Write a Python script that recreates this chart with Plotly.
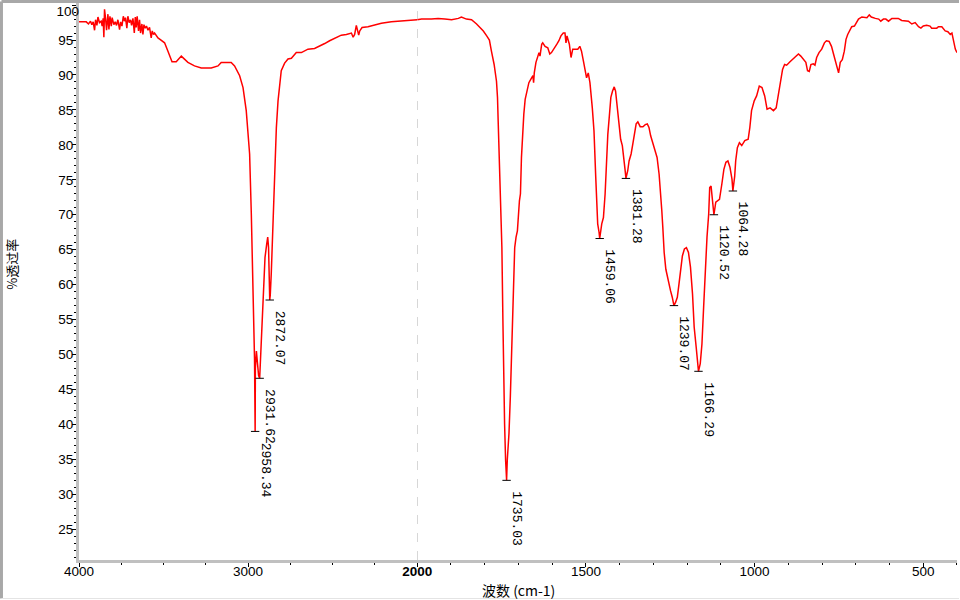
import numpy as np
import plotly.graph_objects as go

# ---------------- data ----------------
wavenumber = [
    4000, 3987, 3970, 3957, 3944, 3932, 3924, 3916, 3908, 3902, 3894, 3888, 3879, 3869, 3863,
    3857, 3853, 3849, 3843, 3837, 3829, 3823, 3817, 3809, 3804, 3794, 3786, 3778, 3770, 3760,
    3754, 3746, 3738, 3731, 3725, 3717, 3711, 3703, 3695, 3689, 3681, 3673, 3667, 3662, 3656,
    3648, 3642, 3636, 3628, 3622, 3616, 3608, 3601, 3592, 3583, 3573, 3567, 3559, 3553, 3543,
    3533, 3515, 3494, 3474, 3450, 3425, 3395, 3356, 3317, 3277, 3218, 3178, 3159, 3100, 3080,
    3050, 3030, 3011, 3001, 2991, 2981, 2975, 2967, 2962, 2958.34, 2957, 2951, 2945, 2938,
    2931.62, 2924, 2916, 2908, 2900, 2890, 2884, 2879, 2872.07, 2869, 2863, 2853, 2843, 2833,
    2823, 2814, 2804, 2784, 2764, 2744, 2715, 2685, 2666, 2646, 2607, 2577, 2547, 2518, 2488,
    2449, 2419, 2389, 2379, 2370, 2360, 2354, 2346, 2340, 2326, 2291, 2252, 2212, 2153, 2094,
    2025, 2000, 1987, 1958, 1938, 1918, 1898, 1878, 1869, 1854, 1839, 1824, 1814, 1804, 1794,
    1786, 1780, 1772, 1765, 1762, 1760, 1757, 1753, 1749, 1746, 1744, 1741, 1738, 1735.03, 1733,
    1728, 1724, 1721, 1717, 1714, 1711, 1707, 1703, 1697, 1694, 1691, 1688, 1684, 1680, 1675,
    1669, 1663, 1657, 1655, 1653, 1648, 1643, 1639, 1636, 1631, 1628, 1621, 1613, 1607, 1602,
    1594, 1586, 1580, 1574, 1567, 1562, 1559, 1556, 1552, 1549, 1544, 1539, 1532, 1524, 1518,
    1513, 1507, 1503, 1498, 1493, 1488, 1481, 1476, 1471, 1468, 1465, 1461, 1459.06, 1453, 1448,
    1443, 1439, 1435, 1430, 1426, 1421, 1416, 1412, 1407, 1402, 1397, 1392, 1387, 1384, 1381.28,
    1376, 1372, 1366, 1361, 1356, 1351, 1346, 1339, 1331, 1324, 1318, 1313, 1308, 1302, 1295,
    1289, 1283, 1278, 1275, 1272, 1268, 1263, 1258, 1254, 1249, 1244, 1241, 1239.07, 1234, 1229,
    1224, 1219, 1214, 1208, 1202, 1196, 1190, 1184, 1179, 1173, 1169, 1166.29, 1161, 1156, 1151,
    1146, 1141, 1136, 1133, 1129, 1126, 1122, 1120.52, 1115, 1110, 1104, 1097, 1091, 1085, 1079,
    1073, 1067, 1064.28, 1059, 1056, 1051, 1045, 1038, 1029, 1019, 1014, 1009, 1001, 994, 986,
    978, 970, 963, 954, 944, 936, 931, 927, 922, 917, 911, 905, 895, 885, 877,
    870, 863, 855, 848, 843, 838, 833, 826, 821, 816, 809, 801, 793, 787, 779,
    772, 766, 760, 755, 751, 746, 740, 734, 729, 724, 717, 712, 704, 697, 692,
    682, 672, 667, 660, 654, 642, 632, 626, 618, 611, 603, 593, 574, 564, 544,
    534, 524, 514, 507, 500, 490, 480, 475, 460, 455, 445, 440, 435, 427, 420,
    415, 410, 405, 400,
]
transmittance = [
    97.6, 97.6, 97.7, 97.6, 97.3, 97.7, 97.2, 97.6, 96.4, 97.9, 97.1, 98.3, 97.5, 97.7, 97.0,
    98.1, 95.4, 99.4, 98.1, 96.4, 98.7, 96.5, 98.4, 97.0, 98.2, 97.2, 97.6, 97.1, 97.9, 96.5,
    97.6, 97.0, 98.4, 97.7, 98.2, 96.7, 98.4, 97.5, 97.9, 97.1, 98.1, 96.0, 98.3, 96.8, 98.4,
    96.3, 97.9, 96.0, 97.3, 95.8, 97.2, 96.7, 97.0, 96.4, 96.8, 95.3, 96.3, 95.8, 96.0, 95.6,
    95.3, 95.0, 94.6, 93.4, 91.9, 91.9, 92.7, 91.8, 91.3, 91.0, 91.0, 91.3, 91.8, 91.8, 91.3,
    89.9, 88.2, 84.9, 81.5, 78.7, 70.1, 63.9, 57.3, 49.4, 39.0, 48.0, 50.5, 48.2, 47.0,
    46.6, 50.8, 54.4, 61.0, 63.9, 65.8, 66.8, 65.3, 57.8, 58.5, 61.6, 68.1, 77.3, 82.4,
    86.3, 88.7, 90.6, 91.7, 92.3, 92.4, 93.2, 93.2, 93.4, 93.7, 93.8, 94.1, 94.5, 94.9, 95.3,
    95.7, 95.8, 96.0, 95.4, 95.8, 97.1, 96.3, 95.7, 96.3, 96.8, 96.9, 97.2, 97.4, 97.6, 97.7,
    97.8, 97.9, 98.0, 98.0, 98.1, 98.0, 97.9, 98.1, 98.3, 98.0, 97.9, 97.3, 96.8, 96.3, 95.6,
    95.0, 93.4, 91.5, 89.1, 86.8, 83.4, 78.7, 71.5, 65.3, 54.9, 46.8, 40.1, 34.9, 32.0, 34.9,
    38.7, 43.9, 48.2, 53.9, 59.6, 65.3, 66.8, 67.7, 72.0, 73.0, 78.2, 81.5, 84.4, 86.5, 87.7,
    88.9, 89.4, 89.9, 88.9, 90.3, 91.8, 92.7, 93.2, 92.7, 94.4, 94.6, 94.1, 93.9, 93.0, 93.2,
    93.9, 94.4, 94.9, 95.6, 96.0, 96.0, 94.6, 95.6, 94.9, 94.4, 92.5, 93.7, 93.7, 93.7, 94.1,
    93.4, 91.9, 90.6, 89.6, 90.3, 88.9, 85.3, 82.0, 75.6, 72.0, 68.7, 67.5, 66.6, 68.7, 69.6,
    73.0, 77.7, 81.5, 84.4, 86.8, 87.7, 88.3, 87.7, 85.3, 82.5, 80.8, 79.9, 78.2, 76.5, 75.2,
    76.3, 77.7, 78.7, 80.1, 81.8, 83.0, 83.3, 82.6, 82.6, 82.9, 83.0, 82.5, 81.3, 80.3, 79.4,
    78.2, 75.8, 73.0, 70.6, 68.2, 64.6, 62.2, 61.0, 60.1, 59.1, 58.2, 57.3, 57.0, 57.5, 58.2,
    60.1, 62.5, 64.1, 65.1, 65.3, 64.6, 62.5, 58.7, 53.9, 51.0, 48.7, 47.6, 48.7, 51.5, 56.8,
    62.5, 66.8, 70.1, 73.9, 74.1, 72.5, 71.0, 70.0, 71.8, 72.0, 72.2, 74.4, 76.5, 77.5, 77.7,
    76.8, 75.1, 73.4, 75.5, 77.7, 79.6, 80.3, 79.9, 80.6, 80.8, 82.5, 84.9, 86.3, 87.0, 88.4,
    88.2, 87.0, 85.1, 85.3, 84.9, 85.3, 86.8, 88.0, 89.6, 90.8, 91.5, 91.4, 91.9, 92.3, 92.7,
    93.0, 92.7, 92.2, 91.8, 90.6, 90.5, 91.5, 91.6, 91.4, 92.5, 93.2, 93.7, 94.6, 94.9, 94.8,
    94.1, 93.0, 91.8, 91.0, 90.3, 91.8, 92.2, 93.4, 95.1, 95.8, 96.4, 96.9, 97.0, 97.5, 98.0,
    98.3, 98.3, 98.2, 98.6, 98.3, 98.1, 98.0, 97.7, 98.0, 98.0, 97.7, 98.1, 98.1, 97.8, 97.7,
    97.3, 97.5, 96.9, 96.7, 97.0, 97.1, 97.0, 96.7, 96.7, 96.9, 96.9, 96.5, 96.3, 96.2, 95.8,
    96.0, 94.9, 93.7, 93.2,
]

peak_wn = [2958.34, 2931.62, 2872.07, 1735.03, 1459.06, 1381.28, 1239.07, 1166.29, 1120.52, 1064.28]
peak_T = [39.0, 46.6, 57.8, 32.0, 66.6, 75.2, 57.0, 47.6, 70.0, 73.4]
peak_labels = ["2958.34", "2931.62", "2872.07", "1735.03", "1459.06",
               "1381.28", "1239.07", "1166.29", "1120.52", "1064.28"]

x_hi_ticks = [4000, 3000, 2000]
x_hi_text = ["4000", "3000", "<b>2000</b>"]
x_lo_ticks = [1500, 1000, 500]
x_lo_text = ["1500", "1000", "500"]
y_ticks = [25, 30, 35, 40, 45, 50, 55, 60, 65, 70, 75, 80, 85, 90, 95, 100]
y_text = ["25", "30", "35", "40", "45", "50", "55", "60", "65", "70", "75", "80", "85", "90", "95", ""]
y_top_tick = [100]
y_top_text = ["100"]

y_title = "%透过率"
x_title = "波数 (cm-1)"

# ---------------- figure ----------------
SPLIT_WN = 2000
wn = np.array(wavenumber, dtype=float)
tr = np.array(transmittance, dtype=float)
hi = wn >= SPLIT_WN
lo = wn <= SPLIT_WN

pw = np.array(peak_wn)
pt = np.array(peak_T)
p_hi = pw >= SPLIT_WN
p_lo = ~p_hi

RED = "#ff0000"
AXGRAY = "#c0c0c0"
TICKFONT = dict(family="Liberation Sans, Arial, sans-serif", size=13.5, color="black")
Y_RANGE = [20.6, 100.3]

fig = go.Figure()
fig.add_trace(go.Scatter(x=wn[hi], y=tr[hi], mode="lines", line=dict(color=RED, width=1.5),
                         xaxis="x", yaxis="y", hoverinfo="skip"))
fig.add_trace(go.Scatter(x=wn[lo], y=tr[lo], mode="lines", line=dict(color=RED, width=1.5),
                         xaxis="x2", yaxis="y", hoverinfo="skip"))
fig.add_trace(go.Scatter(x=pw[p_hi], y=pt[p_hi], mode="markers",
                         marker=dict(symbol="line-ew", size=6, line=dict(color="black", width=1)),
                         xaxis="x", yaxis="y", hoverinfo="skip"))
fig.add_trace(go.Scatter(x=pw[p_lo], y=pt[p_lo], mode="markers",
                         marker=dict(symbol="line-ew", size=6, line=dict(color="black", width=1)),
                         xaxis="x2", yaxis="y", hoverinfo="skip"))

for w, t, lab in zip(peak_wn, peak_T, peak_labels):
    fig.add_annotation(x=w, y=t, xref="x" if w >= SPLIT_WN else "x2", yref="y",
                       text=lab, showarrow=False, textangle=90,
                       xanchor="center", yanchor="top", xshift=10, yshift=-9,
                       font=dict(family="Liberation Mono, DejaVu Sans Mono, monospace",
                                 size=13, color="black"))

# axis titles
fig.add_annotation(x=-0.0763, y=0.53, xref="paper", yref="paper", text=y_title,
                   showarrow=False, textangle=-90, xanchor="center", yanchor="middle",
                   font=dict(family="Noto Sans CJK SC", size=13, color="black"))
fig.add_annotation(x=0.5, y=-0.0539, xref="paper", yref="paper", text=x_title,
                   showarrow=False, xanchor="center", yanchor="middle",
                   font=dict(family="Noto Sans CJK SC", size=14, color="black"))

# dashed reference line at the scale break, outer frame
fig.add_shape(type="line", xref="x2", yref="paper", x0=SPLIT_WN, x1=SPLIT_WN, y0=0, y1=1,
              line=dict(color="#b8b8b8", width=1, dash="dash"), layer="below")
fig.add_shape(type="line", xref="paper", yref="paper", x0=-0.0883, x1=1.0023, y0=1.0027, y1=1.0027,
              line=dict(color="#a8a8a8", width=3))
fig.add_shape(type="line", xref="paper", yref="paper", x0=-0.0883, x1=-0.0883, y0=-0.0691, y1=1.0027,
              line=dict(color="#a8a8a8", width=3))
fig.add_shape(type="line", xref="paper", yref="paper", x0=-0.0883, x1=1.0023, y0=-0.0691, y1=-0.0691,
              line=dict(color="#e4e4e4", width=1))

split_frac = 0.3852
common_x = dict(showline=True, linecolor=AXGRAY, linewidth=3, showgrid=False, zeroline=False,
                ticks="outside", ticklen=4, tickcolor="black", tickwidth=1, anchor="y",
                tickfont=TICKFONT, tickmode="array", ticklabelstandoff=-7, automargin=False)
fig.update_layout(
    autosize=True,
    margin=dict(l=79, r=3, t=3, b=40, autoexpand=False),
    paper_bgcolor="white", plot_bgcolor="white", showlegend=False,
    xaxis=dict(domain=[0, split_frac], range=[4000, 2000], tickvals=x_hi_ticks, ticktext=x_hi_text,
               minor=dict(tickmode="linear", tick0=0, dtick=250, ticks="outside", ticklen=2,
                          tickcolor="black"), **common_x),
    xaxis2=dict(domain=[split_frac, 1], range=[2000, 400], tickvals=x_lo_ticks, ticktext=x_lo_text,
                minor=dict(tickmode="linear", tick0=0, dtick=100, ticks="outside", ticklen=2,
                           tickcolor="black"), **common_x),
    yaxis=dict(range=Y_RANGE, tickmode="array", tickvals=y_ticks, ticktext=y_text, showline=True,
               linecolor=AXGRAY, linewidth=3, showgrid=False, zeroline=False,
               ticks="outside", ticklen=4, tickcolor="black", tickfont=TICKFONT,
               ticklabelstandoff=-4, automargin=False,
               minor=dict(tickmode="linear", tick0=0, dtick=1, ticks="outside", ticklen=2,
                          tickcolor="black")),
    # overlay axis only carrying the top "100" label, nudged down to stay inside the page
    yaxis2=dict(range=Y_RANGE, overlaying="y", side="left", anchor="x", tickmode="array",
                tickvals=y_top_tick, ticktext=y_top_text, ticks="", showline=False,
                showgrid=False, zeroline=False, tickfont=TICKFONT, ticklabelstandoff=-1,
                ticklabelshift=6, ticklabeloverflow="allow", automargin=False),
)
# invisible trace so the overlay axis is drawn
fig.add_trace(go.Scatter(x=[wn[0]], y=[tr[0]], mode="markers", marker=dict(opacity=0),
                         xaxis="x", yaxis="y2", hoverinfo="skip"))

# the 960 x 600 figure div is pinned to the page's top-left corner
fig.write_html("out.html", config={"displayModeBar": False},
               default_width="960px",
               default_height="600px; position:absolute; left:0px; top:0px")
